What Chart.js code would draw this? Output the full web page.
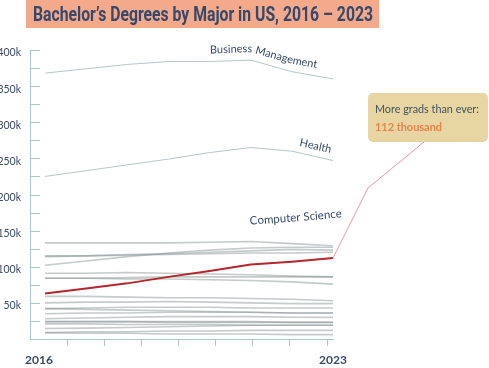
<!DOCTYPE html>
<html>
<head>
<meta charset="utf-8">
<script src="https://cdn.jsdelivr.net/npm/chart.js@4.4.1/dist/chart.umd.min.js"></script>
<style>
  html, body { margin: 0; padding: 0; background: #fff; }
  #wrap { width: 489px; height: 368px; position: relative; }
</style>
</head>
<body>
<div id="wrap"><canvas id="majors"></canvas></div>
<script>
// values in thousands of degrees
const years = [2016, 2017, 2018, 2019, 2020, 2021, 2022, 2023];
const businessMgmt = [368, 374, 380, 384, 384, 386, 370, 360];
const health = [225, 233, 241, 249, 258, 265, 260, 247];
const computerScience = [63, 70, 77, 86, 94, 103, 107, 112];
const otherMajors = [
  [133, 133, 133, 133, 134, 135, 132, 129],
  [115, 115, 116, 117, 118, 119, 119, 120],
  [114, 115, 117, 118, 120, 122, 124, 123],
  [102, 108, 114, 119, 123, 126, 127, 127],
  [91, 91, 92, 91, 90, 89, 87, 86],
  [84, 84, 85, 86, 86, 86, 86, 86],
  [84, 84, 83, 83, 82, 81, 79, 76],
  [59, 59, 58, 57, 57, 56, 55, 53],
  [50, 51, 51, 52, 51, 50, 49, 49],
  [42, 43, 44, 44, 44, 43, 43, 43],
  [42, 41, 40, 39, 38, 37, 36, 36],
  [35, 36, 36, 37, 37, 37, 36, 36],
  [28, 29, 30, 31, 31, 31, 30, 30],
  [24, 24, 24, 24, 24, 24, 23, 23],
  [24, 24, 24, 23, 23, 23, 23, 23],
  [21, 21, 20, 20, 20, 19, 19, 19],
  [14.5, 15, 16, 17, 18, 19, 19, 19],
  [9, 10, 10, 11, 11, 12, 12, 12],
  [8.5, 8, 8, 7, 7, 7, 6, 6]
];
const yTicks = { min: 0, max: 400, step: 25 };
const titleText = 'Bachelor\u2019s Degrees by Major in US, 2016 \u2013 2023';
const noteLine1 = 'More grads than ever:';
const noteLine2 = '112 thousand';

const AXIS_COLOR = '#a9c7cd';
const TEXT_COLOR = '#3b4a66';
const X_MIN = 2015.635;
const TICK_STEP = 0.9024;

const toPoints = arr => arr.map((v, i) => ({ x: years[i], y: v }));

const datasets = [
  { label: 'Computer Science', data: toPoints(computerScience), borderColor: '#b3262b', borderWidth: 2 },
  { label: 'Business Management', data: toPoints(businessMgmt), borderColor: '#b9c5c8', borderWidth: 1 },
  { label: 'Health', data: toPoints(health), borderColor: '#b9c5c8', borderWidth: 1 }
].concat(otherMajors.map((arr, i) => ({
  label: 'major ' + i, data: toPoints(arr), borderColor: 'rgba(140,150,152,0.5)', borderWidth: 1.6
})));

// text following a dataset's line
function textOnLine(ctx, pts, text, startX, dy) {
  const path = pts.map(p => ({ x: p.x, y: p.y + dy }));
  const cum = [0];
  for (let i = 1; i < path.length; i++) {
    cum.push(cum[i - 1] + Math.hypot(path[i].x - path[i - 1].x, path[i].y - path[i - 1].y));
  }
  const at = d => {
    let i = 1;
    while (i < path.length - 1 && cum[i] < d) i++;
    const a = path[i - 1], b = path[i];
    const t = (d - cum[i - 1]) / (cum[i] - cum[i - 1]);
    return { x: a.x + (b.x - a.x) * t, y: a.y + (b.y - a.y) * t };
  };
  let k = 1;
  while (k < path.length - 1 && path[k].x < startX) k++;
  let d = cum[k - 1] + (startX - path[k - 1].x) / (path[k].x - path[k - 1].x) * (cum[k] - cum[k - 1]);
  for (const ch of text) {
    const w = ctx.measureText(ch).width;
    const mid = d + w / 2;
    const p = at(mid), a = at(mid - 7), b = at(mid + 7);
    ctx.save();
    ctx.translate(p.x, p.y);
    ctx.rotate(Math.atan2(b.y - a.y, b.x - a.x));
    ctx.fillText(ch, 0, 0);
    ctx.restore();
    d += w;
  }
}

// draw text squeezed/stretched to a given width
function fitText(ctx, text, x, y, width) {
  const w = ctx.measureText(text).width;
  ctx.save();
  ctx.translate(x, y);
  ctx.scale(width / w, 1);
  ctx.fillText(text, 0, 0);
  ctx.restore();
}

const decorations = {
  id: 'decorations',
  afterDraw(chart) {
    const { ctx, chartArea, scales } = chart;
    const x = scales.x, y = scales.y;
    ctx.save();

    // y tick marks pointing into the plot
    ctx.strokeStyle = AXIS_COLOR;
    ctx.lineWidth = 1;
    y.ticks.forEach(t => {
      const py = Math.round(y.getPixelForValue(t.value)) + 0.5;
      ctx.beginPath();
      ctx.moveTo(chartArea.left, py);
      ctx.lineTo(chartArea.left + 10, py);
      ctx.stroke();
    });

    // title
    ctx.fillStyle = '#f4a98a';
    ctx.fillRect(26, 0, 353, 28);
    ctx.font = 'bold 20px Roboto';
    ctx.fillStyle = '#34496b';
    ctx.textBaseline = 'alphabetic';
    ctx.textAlign = 'left';
    fitText(ctx, titleText, 33, 21, 340);

    // year labels
    ctx.font = 'bold 12px Lato';
    ctx.fillStyle = TEXT_COLOR;
    ctx.textAlign = 'center';
    ctx.fillText(String(years[0]), x.getPixelForValue(years[0]) - 6, 364);
    ctx.fillText(String(years[years.length - 1]), x.getPixelForValue(years[years.length - 1]), 364);

    // line labels
    ctx.font = '11px Lato';
    textOnLine(ctx, chart.getDatasetMeta(1).data, 'Business Management', 210, -8);
    textOnLine(ctx, chart.getDatasetMeta(2).data, 'Health', 299, -7);
    ctx.font = '11.5px Lato';
    textOnLine(ctx, chart.getDatasetMeta(0).data, 'Computer Science', 250, -40);

    // annotation
    const pts = chart.getDatasetMeta(0).data;
    const last = pts[pts.length - 1];
    const box = { x: 368, y: 93, w: 120, h: 49 };
    ctx.strokeStyle = '#e29a9a';
    ctx.lineWidth = 1;
    ctx.beginPath();
    ctx.moveTo(last.x, last.y);
    ctx.lineTo(box.x, 188);
    ctx.lineTo(box.x + 56, box.y + box.h);
    ctx.stroke();

    ctx.fillStyle = '#e8d6a2';
    ctx.beginPath();
    ctx.roundRect(box.x, box.y, box.w, box.h, 5);
    ctx.fill();
    ctx.textAlign = 'left';
    ctx.font = '12px Lato';
    ctx.fillStyle = '#45505e';
    fitText(ctx, noteLine1, box.x + 7, box.y + 20, 104);
    ctx.font = 'bold 12px Lato';
    ctx.fillStyle = '#e9834f';
    fitText(ctx, noteLine2, box.x + 7, box.y + 38, 67);

    ctx.restore();
  }
};

new Chart(document.getElementById('majors'), {
  type: 'line',
  data: { datasets },
  options: {
    responsive: true,
    maintainAspectRatio: false,
    animation: false,
    layout: { padding: { top: 50, right: 156, left: 0, bottom: 0 } },
    elements: { point: { radius: 0 }, line: { tension: 0 } },
    plugins: { legend: { display: false }, tooltip: { enabled: false } },
    scales: {
      x: {
        type: 'linear',
        min: X_MIN,
        max: years[years.length - 1],
        afterBuildTicks: scale => {
          scale.ticks = [1, 2, 3, 4, 5, 6, 7, 8].map(k => ({ value: X_MIN + k * TICK_STEP }));
        },
        afterFit: scale => { scale.height = 29; },
        ticks: { display: false },
        grid: { display: true, drawOnChartArea: false, drawTicks: true, tickLength: 7, color: AXIS_COLOR },
        border: { display: true, color: AXIS_COLOR }
      },
      y: {
        min: yTicks.min,
        max: yTicks.max,
        afterFit: scale => { scale.width = 30; },
        ticks: {
          stepSize: yTicks.step,
          padding: 9,
          labelOffset: 3,
          color: TEXT_COLOR,
          font: { family: 'Lato', size: 10.5 },
          callback: v => (v % 50 === 0 && v > 0 ? v + 'k' : '')
        },
        grid: { display: false, drawTicks: false },
        border: { display: true, color: AXIS_COLOR }
      }
    }
  },
  plugins: [decorations]
});
</script>
</body>
</html>
